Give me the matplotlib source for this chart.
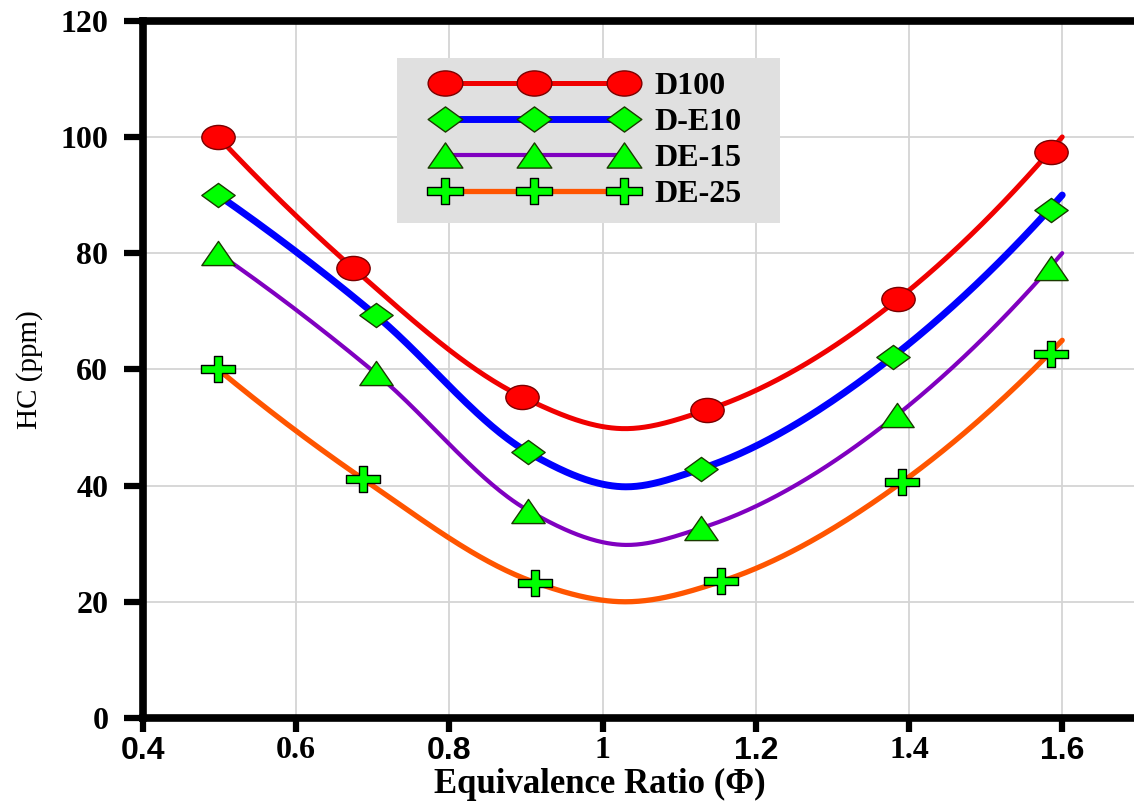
import numpy as np
import matplotlib
matplotlib.use('Agg')
import matplotlib.pyplot as plt
from matplotlib.path import Path
from matplotlib.lines import Line2D
from matplotlib.patches import Rectangle
from matplotlib.transforms import Affine2D

# values (markers)
names = ['D100', 'D-E10', 'DE-15', 'DE-25']
phi_d100 = [0.498, 0.6745, 0.8945, 1.136, 1.386, 1.586]
hc_d100 = [100.0, 77.4, 55.3, 53.0, 72.1, 97.4]
phi_de10 = [0.498, 0.704, 0.903, 1.129, 1.379, 1.586]
hc_de10 = [90.0, 69.3, 45.7, 42.9, 62.2, 87.4]
phi_de15 = [0.498, 0.704, 0.903, 1.129, 1.384, 1.586]
hc_de15 = [80.0, 59.3, 35.7, 32.7, 52.1, 77.4]
phi_de25 = [0.498, 0.6876, 0.912, 1.155, 1.391, 1.586]
hc_de25 = [60.0, 41.1, 23.3, 23.5, 40.6, 62.7]

# trend lines: lowest point and end point at phi = 1.6
curve_min_phi = [1.025, 1.025, 1.025, 1.025]
curve_min_hc = [49.8, 39.8, 29.8, 20.0]
curve_end_phi = [1.6, 1.6, 1.6, 1.6]
curve_end_hc = [100.0, 90.0, 80.0, 65.0]

xticks = [0.4, 0.6, 0.8, 1.0, 1.2, 1.4, 1.6]
xtick_labels = ['0.4', '0.6', '0.8', '1', '1.2', '1.4', '1.6']
yticks = [0, 20, 40, 60, 80, 100, 120]

phis = [phi_d100, phi_de10, phi_de15, phi_de25]
hcs = [hc_d100, hc_de10, hc_de15, hc_de25]
line_colors = ['#f00000', '#0000ff', '#8000c0', '#ff5500']
line_widths = [3.6, 5.0, 3.0, 3.8]


def smooth(xs, ys, n=60):
    # cubic hermite through the nodes, like a smoothed excel line
    xs = np.asarray(xs, float)
    ys = np.asarray(ys, float)
    m = np.gradient(ys, xs, edge_order=2)
    t = np.linspace(0, 1, n)
    h00 = 2 * t**3 - 3 * t**2 + 1
    h10 = t**3 - 2 * t**2 + t
    h01 = -2 * t**3 + 3 * t**2
    h11 = t**3 - t**2
    px, py = [], []
    for i in range(len(xs) - 1):
        h = xs[i + 1] - xs[i]
        px.append(xs[i] + t * h)
        py.append(h00 * ys[i] + h10 * h * m[i] + h01 * ys[i + 1] + h11 * h * m[i + 1])
    return np.concatenate(px), np.concatenate(py)


# markers are stretched sideways in the original
s = 1.38
ellipse = Path.unit_circle().transformed(Affine2D().scale(s, 1.0))
diamond = Path([(-s, 0), (0, 1), (s, 0), (0, -1), (-s, 0)], closed=True)
triangle = Path([(0, 1), (-s, -1), (s, -1), (0, 1)], closed=True)
tx, ty = 0.32, 0.28
plus = Path([(-s, ty), (-tx, ty), (-tx, 1), (tx, 1), (tx, ty), (s, ty), (s, -ty), (tx, -ty),
             (tx, -1), (-tx, -1), (-tx, -ty), (-s, -ty), (-s, ty)], closed=True)
markers = [ellipse, diamond, triangle, plus]
marker_fc = ['#ff0000', '#00ff00', '#00ff00', '#00ff00']
marker_ec = ['#7a0000', '#1a3a00', '#1a3a00', '#000000']
marker_sz = [24, 24, 24, 25]

fig = plt.figure(figsize=(11.34, 8.01), dpi=100)
ax = fig.add_axes([0.1261, 0.1037, 0.9457, 0.8704])

for i in range(4):
    cx = phis[i][:3] + [curve_min_phi[i]] + phis[i][3:5] + [curve_end_phi[i]]
    cy = hcs[i][:3] + [curve_min_hc[i]] + hcs[i][3:5] + [curve_end_hc[i]]
    sx, sy = smooth(cx, cy)
    ax.plot(sx, sy, color=line_colors[i], lw=line_widths[i], solid_capstyle='round', zorder=3)
    ax.plot(phis[i], hcs[i], ls='none', marker=markers[i], ms=marker_sz[i],
            mfc=marker_fc[i], mec=marker_ec[i], mew=1.0, zorder=4)

ax.set_xlim(0.4, 1.8)
ax.set_ylim(0, 120)
ax.set_xticks(xticks, labels=xtick_labels)
ax.set_yticks(yticks)
ax.grid(True, color='#d4d4d4', lw=1.3, zorder=0)
ax.set_axisbelow(True)

for side in ['left', 'bottom', 'top']:
    ax.spines[side].set_linewidth(5.5)
    ax.spines[side].set_color('black')
ax.spines['right'].set_visible(False)

ax.tick_params(axis='y', direction='out', length=14, width=4.5, pad=11)
ax.tick_params(axis='x', direction='out', length=10, width=4.5, pad=3)

for lab in ax.get_yticklabels():
    lab.set_fontfamily('Liberation Serif')
    lab.set_fontweight('bold')
    lab.set_fontsize(23)
for lab in ax.get_xticklabels():
    if lab.get_text() in ['0.4', '0.8', '1.2', '1.6']:
        lab.set_fontfamily(['Liberation Sans Narrow', 'Liberation Sans'])
    else:
        lab.set_fontfamily('Liberation Serif')
    lab.set_fontweight('bold')
    lab.set_fontsize(23)

ax.set_xlabel('Equivalence Ratio (\u03a6)', fontfamily='Liberation Serif', fontweight='bold', fontsize=25)
ax.xaxis.set_label_coords(0.426, -0.072)
ax.set_ylabel('HC (ppm)', fontfamily='Liberation Serif', fontsize=21)
ax.yaxis.set_label_coords(-0.093, 0.5)

# grey legend box
ax.add_patch(Rectangle((0.2369, 0.710), 0.3571, 0.2366, transform=ax.transAxes,
                       facecolor='#e0e0e0', edgecolor='none', zorder=5))
handles = [Line2D([], [], color=line_colors[i], lw=line_widths[i], marker=markers[i],
                  ms=marker_sz[i] + 1, mfc=marker_fc[i], mec=marker_ec[i], mew=1.0) for i in range(4)]
leg = ax.legend(handles, names, loc='center', bbox_to_anchor=(0.4155, 0.8283), numpoints=3,
                frameon=False, handlelength=6.2, handletextpad=0.66, labelspacing=0.21,
                prop={'family': 'Liberation Serif', 'weight': 'bold', 'size': 23})
leg.set_zorder(6)

fig.savefig('out.png', dpi=100)
